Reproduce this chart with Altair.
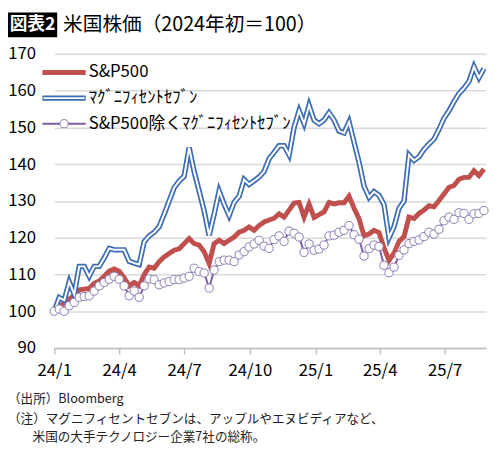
import altair as alt
import pandas as pd

# ---- data (weekly, index 2024-01 start = 100) ----
dates = pd.date_range("2024-01-01", periods=87, freq="7D").strftime("%Y-%m-%d").tolist()

sp500 = [100, 101.5, 102, 103.3, 104.4, 105.8, 106, 106.2, 107.6, 108.2,
         109.5, 110.9, 111.5, 110.9, 109.1, 106.9, 107.8, 106.9, 110, 112,
         111.7, 113.5, 114.8, 115.7, 116.6, 117, 118.4, 119.8, 118.4, 118,
         116.2, 113, 118.4, 119.3, 118.4, 119.3, 120.2, 121.5, 122, 122.9,
         122, 123.3, 124.3, 124.8, 125.3, 126.5, 125.6, 127.5, 129.4, 129.6,
         125.6, 129.1, 125.5, 126.3, 127, 129.6, 129.2, 129.5, 129.5, 131.3,
         128, 125.2, 120.5, 121, 122, 121.4, 117.2, 113.8, 115.8, 119,
         120.3, 125.6, 125.2, 126.6, 127.5, 128.7, 128.4, 130.1, 131.9, 133.7,
         134.2, 135.9, 136.4, 136.4, 138.2, 136.9, 138.7]

mag7 = [100, 103.7, 103, 108, 104.6, 112.2, 112.2, 109.5, 112.2, 112.2,
        114.5, 117.1, 116.7, 116.7, 116.7, 113.6, 113.1, 112.7, 118.9, 120.5,
        121.5, 123, 126.4, 130, 133.6, 135.4, 136.7, 144.5, 138, 132.7,
        127.3, 120.6, 126.4, 132.7, 129.1, 126, 129.6, 131.3, 135.8, 134.5,
        135.5, 136.5, 138, 141.5, 143.2, 145, 145, 142.5, 150, 154.5,
        151, 156, 152, 151, 152, 154, 152, 149, 148.5, 151.5,
        146, 140.5, 134, 131, 132.5, 131.5, 129, 120, 123, 128,
        130, 142.5, 141, 142, 144, 145.5, 146.8, 149.5, 152.5, 154.5,
        157, 159.2, 160.7, 162.5, 166.5, 163.5, 166]

ex_mag7 = [100, 100.6, 100, 101.5, 102.4, 103.8, 104, 104.2, 105.5, 106.9,
           107.8, 108.7, 109.5, 108.7, 106.9, 104.2, 105.5, 103.8, 106.9, 108.8,
           108.6, 107.2, 107.7, 108.1, 108.6, 108.6, 109, 109.5, 111.7, 110.8,
           110.4, 106.3, 111.2, 113.5, 113.9, 113.9, 113.5, 115.3, 116.2, 117.5,
           118.3, 119.3, 117.7, 117.1, 119.5, 120.5, 119, 121.8, 121.2, 120.2,
           116, 118.3, 116.6, 116.9, 118, 120.5, 120.7, 121.5, 122, 123.3,
           120.8, 119.6, 115, 117, 118, 117.6, 112.5, 110.5, 112, 115.2,
           116.7, 118.4, 119, 119.4, 120.3, 121.5, 121, 122.3, 124.6, 125.6,
           125, 126.8, 126.6, 125, 126.5, 126.6, 127.4]

tick_dates = [(2024, 1), (2024, 4), (2024, 7), (2024, 10), (2025, 1), (2025, 4), (2025, 7)]
y_ticks = [90, 100, 110, 120, 130, 140, 150, 160, 170]

series_labels = ["S&P500", "ﾏｸﾞﾆﾌｨｾﾝﾄｾﾌﾞﾝ", "S&P500除くﾏｸﾞﾆﾌｨｾﾝﾄｾﾌﾞﾝ"]
title_tag = "図表2"
title_text = "米国株価（2024年初＝100）"
notes = ["（出所）Bloomberg",
         "（注）マグニフィセントセブンは、アップルやエヌビディアなど、",
         "米国の大手テクノロジー企業7社の総称。"]

df = pd.DataFrame({"date": dates, "sp500": sp500, "mag7": mag7, "ex": ex_mag7})

RED = "#c0504d"
BLUE = "#3d6db3"
PURPLE = "#7a5fa6"
MARK_STROKE = "#8e7bb3"

xscale = alt.Scale(type="utc", domain=[alt.DateTime(year=2024, month=1, date=1, utc=True),
                                       alt.DateTime(year=2025, month=8, date=28, utc=True)])
xaxis = alt.Axis(values=[alt.DateTime(year=y, month=m, date=1, utc=True) for y, m in tick_dates],
                 format="%y/%-m", labelFontSize=17, labelColor="black", labelPadding=9,
                 labelFlush=False, labelOverlap=False,
                 tickSize=6, tickColor="#bfbfbf", tickWidth=1.5,
                 domainColor="#bfbfbf", domainWidth=1.5, grid=False, title=None)
yscale = alt.Scale(domain=[90, 170], nice=False, zero=False)
yaxis = alt.Axis(values=y_ticks, labelFontSize=17, labelColor="black", labelPadding=19,
                 ticks=False, domain=False, gridColor="#d9d9d9", gridWidth=1.5, title=None)

X = alt.X("date:T", scale=xscale, axis=xaxis)

def Y(field):
    return alt.Y(f"{field}:Q", scale=yscale, axis=yaxis)

base = alt.Chart(df)
red = base.mark_line(color=RED, strokeWidth=5).encode(x=X, y=Y("sp500"))
blue_out = base.mark_line(color=BLUE, strokeWidth=5.5).encode(x=X, y=Y("mag7"))
blue_in = base.mark_line(color="white", strokeWidth=2).encode(x=X, y=Y("mag7"))
purple = base.mark_line(color=PURPLE, strokeWidth=2).encode(x=X, y=Y("ex"))
purple_pts = base.mark_point(shape="circle", filled=True, fill="white", stroke=MARK_STROKE,
                             strokeWidth=1, size=70, opacity=1).encode(x=X, y=Y("ex"))

dummy = alt.Chart(pd.DataFrame({"a": [0]}))

# legend
leg_y = [19, 45, 71]
leg_red = dummy.mark_rule(color=RED, strokeWidth=5).encode(
    x=alt.value(-12), x2=alt.value(32), y=alt.value(leg_y[0]))
leg_blue_o = dummy.mark_rule(color=BLUE, strokeWidth=5.5).encode(
    x=alt.value(-12), x2=alt.value(32), y=alt.value(leg_y[1]))
leg_blue_i = dummy.mark_rule(color="white", strokeWidth=2).encode(
    x=alt.value(-11), x2=alt.value(31), y=alt.value(leg_y[1]))
leg_purple = dummy.mark_rule(color=PURPLE, strokeWidth=2).encode(
    x=alt.value(-12), x2=alt.value(32), y=alt.value(leg_y[2]))
leg_pt = dummy.mark_point(shape="circle", filled=True, fill="white", stroke=MARK_STROKE,
                          strokeWidth=1, size=70, opacity=1).encode(
    x=alt.value(10), y=alt.value(leg_y[2]))
leg_texts = [dummy.mark_text(text=lab, align="left", baseline="middle", fontSize=17,
                             color="black").encode(x=alt.value(35), y=alt.value(yy))
             for lab, yy in zip(series_labels, leg_y)]

# title
tag_box = dummy.mark_rect(color="black").encode(
    x=alt.value(-47), x2=alt.value(3), y=alt.value(-42), y2=alt.value(-17))
tag_text = dummy.mark_text(text=title_tag, align="center", baseline="middle", fontSize=18,
                           fontWeight="bold", color="white").encode(
    x=alt.value(-22), y=alt.value(-29))
ttl = dummy.mark_text(text=title_text, align="left", baseline="middle", fontSize=20,
                      color="black").encode(x=alt.value(9), y=alt.value(-29))

# notes
note_pos = [(-47, 351), (-47, 371), (-22, 390)]
note_marks = [dummy.mark_text(text=t, align="left", baseline="middle", fontSize=12.8,
                              color="#222222").encode(x=alt.value(px), y=alt.value(py))
              for t, (px, py) in zip(notes, note_pos)]

chart = alt.layer(
    red, blue_out, blue_in, purple, purple_pts,
    leg_red, leg_blue_o, leg_blue_i, leg_purple, leg_pt, *leg_texts,
    tag_box, tag_text, ttl, *note_marks
).properties(
    width=439, height=299,
    padding={"left": 47, "top": 43, "right": 6, "bottom": 97},
    autosize=alt.AutoSizeParams(type="none"),
).configure(font="Noto Sans CJK JP").configure_view(stroke=None)

chart.save("out.html", embed_options={"renderer": "svg", "actions": False})
